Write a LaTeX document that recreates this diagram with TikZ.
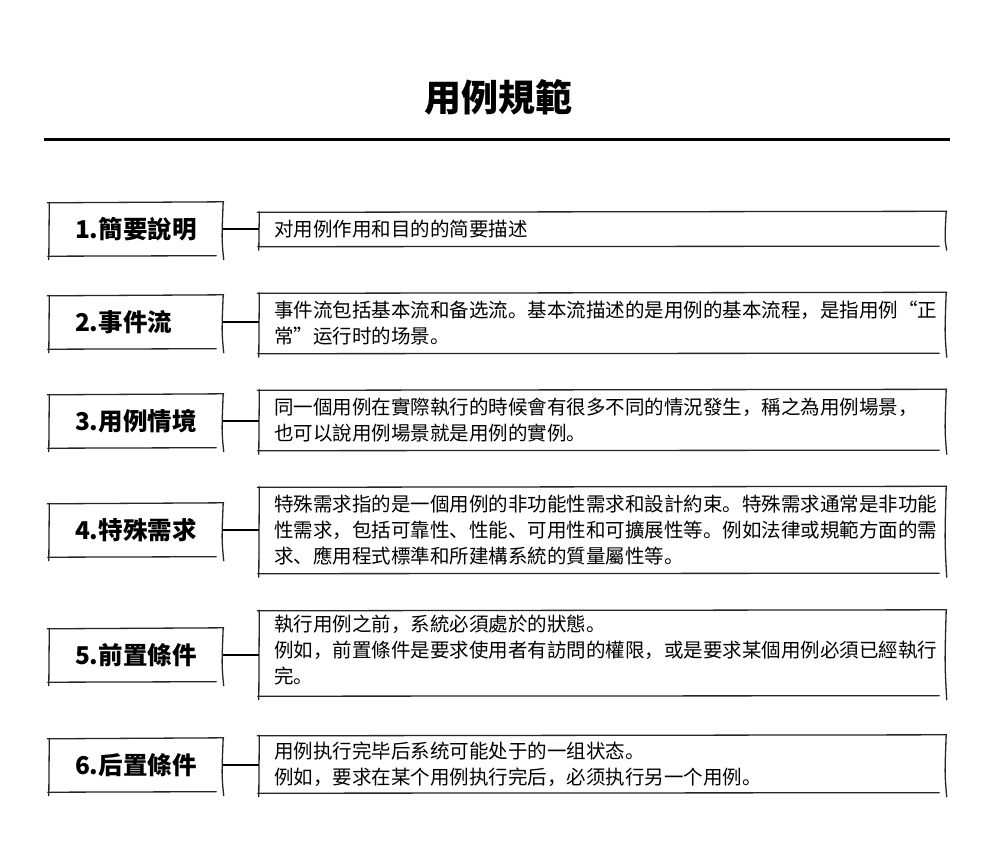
\documentclass[tikz,border=0pt]{standalone}
\usepackage{fontspec}
\setmainfont{Noto Sans CJK SC}
\tikzset{
  skline/.style={line width=1.3pt, line cap=round, black!85},
  lbox/.style={minimum width=174pt, minimum height=53pt, inner sep=0pt},
  rbox/.style={minimum width=687pt, inner sep=0pt},
  ltext/.style={anchor=west, inner sep=0pt, font=\bfseries\fontsize{24.5}{27}\selectfont},
  rtext/.style={anchor=west, inner sep=0pt, align=left, font=\fontsize{19.5}{26.2}\selectfont},
  conn/.style={line width=2.8pt},
}
\newcommand{\sk}[1]{%
  \draw[skline] ([shift={(-1.5,0.5)}]#1.north west) -- ([shift={(0.5,-0.5)}]#1.north east);
  \draw[skline] ([shift={(0,-0.5)}]#1.north east) .. controls ([shift={(-1.5,10)}]#1.east) .. ([shift={(0.5,4)}]#1.south east);
  \draw[skline] ([shift={(-7,0)}]#1.south east) -- ([shift={(-1,0.5)}]#1.south west);
  \draw[skline] ([shift={(0,4)}]#1.south west) -- ([shift={(0.5,0)}]#1.north west);
}
\begin{document}
\begin{tikzpicture}[x=1pt,y=-1pt]
\useasboundingbox[fill=white] (0,0) rectangle (996,855);
\node[font=\bfseries\fontsize{37}{40}\selectfont] (title) at (498,97) {用例規範};
\coordinate (h0) at (44,139);
\coordinate (h1) at (950,139);
\draw[line width=3pt] (h0) -- (h1);

\node[lbox] (l1) at (136,229) {};
\node[lbox] (l2) at (136,322) {};
\node[lbox] (l3) at (136,421) {};
\node[lbox] (l4) at (136,530) {};
\node[lbox] (l5) at (136,655) {};
\node[lbox] (l6) at (136,765) {};
\node[ltext] (lt1) at ([xshift=26pt]l1.west) {1.簡要說明};
\node[ltext] (lt2) at ([xshift=26pt]l2.west) {2.事件流};
\node[ltext] (lt3) at ([xshift=26pt]l3.west) {3.用例情境};
\node[ltext] (lt4) at ([xshift=26pt]l4.west) {4.特殊需求};
\node[ltext] (lt5) at ([xshift=26pt]l5.west) {5.前置條件};
\node[ltext] (lt6) at ([xshift=26pt]l6.west) {6.后置條件};

\node[rbox, minimum height=34pt] (r1) at (602.5,229) {};
\node[rbox, minimum height=60pt] (r2) at (602.5,323) {};
\node[rbox, minimum height=60pt] (r3) at (602.5,420) {};
\node[rbox, minimum height=86pt] (r4) at (602.5,530) {};
\node[rbox, minimum height=85pt] (r5) at (602.5,653) {};
\node[rbox, minimum height=57pt] (r6) at (602.5,764) {};

\node[rtext] (t1) at ([xshift=15pt]r1.west) {对用例作用和目的的简要描述};
\node[rtext] (t2) at ([xshift=15pt]r2.west) {事件流包括基本流和备选流。基本流描述的是用例的基本流程，是指用例“正\\常”运行时的场景。};
\node[rtext] (t3) at ([xshift=15pt]r3.west) {同一個用例在實際執行的時候會有很多不同的情況發生，稱之為用例場景，\\也可以說用例場景就是用例的實例。};
\node[rtext] (t4) at ([xshift=15pt]r4.west) {特殊需求指的是一個用例的非功能性需求和設計約束。特殊需求通常是非功能\\性需求，包括可靠性、性能、可用性和可擴展性等。例如法律或規範方面的需\\求、應用程式標準和所建構系統的質量屬性等。};
\node[rtext] (t5) at ([xshift=15pt,yshift=3pt]r5.west) {執行用例之前，系統必須處於的狀態。\\例如，前置條件是要求使用者有訪問的權限，或是要求某個用例必須已經執行\\完。};
\node[rtext] (t6) at ([xshift=15pt]r6.west) {用例执行完毕后系统可能处于的一组状态。\\例如，要求在某个用例执行完后，必须执行另一个用例。};

\foreach \n in {l1,l2,l3,l4,l5,l6,r1,r2,r3,r4,r5,r6} {\sk{\n}}
\foreach \i in {1,...,6} {\draw[conn] (l\i.east) -- (l\i.east -| r\i.west);}
\end{tikzpicture}
\end{document}
